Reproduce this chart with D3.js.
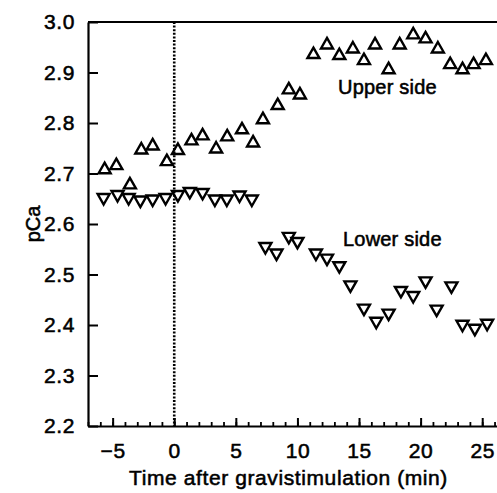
<!DOCTYPE html>
<html>
<head>
<meta charset="utf-8">
<script src="https://cdn.jsdelivr.net/npm/d3@7"></script>
<style>
  html, body { margin: 0; padding: 0; background: #fff; }
  svg { display: block; }
  text { font-family: "Liberation Sans", Arial, Helvetica, sans-serif; fill: #000; stroke: #000; stroke-width: 0.55px; }
</style>
</head>
<body>
<svg id="chart" width="497" height="493"></svg>
<script>
// ---- data ----
const upperTime = [-5.65, -4.7, -3.6, -2.67, -1.75, -0.6, 0.3, 1.4, 2.3, 3.4, 4.3, 5.5, 6.4, 7.2, 8.4, 9.3, 10.2, 11.3, 12.4, 13.4, 14.5, 15.4, 16.3, 17.4, 18.3, 19.4, 20.4, 21.4, 22.4, 23.4, 24.3, 25.3];
const upperPCa  = [2.711, 2.719, 2.681, 2.750, 2.758, 2.727, 2.749, 2.768, 2.778, 2.752, 2.776, 2.790, 2.764, 2.810, 2.838, 2.869, 2.859, 2.939, 2.958, 2.937, 2.950, 2.927, 2.958, 2.909, 2.958, 2.978, 2.970, 2.950, 2.919, 2.909, 2.919, 2.927];
const lowerTime = [-5.73, -4.6, -3.7, -2.75, -1.75, -0.7, 0.3, 1.26, 2.3, 3.3, 4.27, 5.3, 6.3, 7.4, 8.3, 9.3, 10.0, 11.5, 12.4, 13.4, 14.3, 15.4, 16.4, 17.4, 18.4, 19.4, 20.4, 21.3, 22.5, 23.4, 24.4, 25.4];
const lowerPCa  = [2.649, 2.655, 2.649, 2.644, 2.646, 2.649, 2.655, 2.661, 2.659, 2.646, 2.646, 2.654, 2.646, 2.552, 2.539, 2.572, 2.562, 2.539, 2.529, 2.514, 2.476, 2.430, 2.404, 2.420, 2.465, 2.455, 2.484, 2.428, 2.474, 2.398, 2.390, 2.400];
const xTicks = [-5, 0, 5, 10, 15, 20, 25];
const xMinorTicks = d3.range(-7, 27, 1);
const yTicks = [2.2, 2.3, 2.4, 2.5, 2.6, 2.7, 2.8, 2.9, 3.0];
const seriesLabels = [
  { name: "Upper side", t: 13.3, v: 2.857 },
  { name: "Lower side", t: 13.7, v: 2.556 }
];
const xTitle = "Time after gravistimulation (min)";
const yTitle = "pCa";

// ---- layout ----
const svg = d3.select("#chart");
const mL = 88, mR = 497, mT = 22, mB = 426;
const x = d3.scaleLinear().domain([-7, 26.2]).range([mL, mR]);
const y = d3.scaleLinear().domain([2.2, 3.0]).range([mB, mT]);
const FS = 21;
const FONT = '"Liberation Sans", Arial, Helvetica, sans-serif';

// top frame line
svg.append("line")
  .attr("x1", mL).attr("x2", mR).attr("y1", mT).attr("y2", mT)
  .attr("stroke", "#000").attr("stroke-width", 2.2);

// bottom minor ticks
const gMinor = svg.append("g").attr("transform", `translate(0,${mB})`)
  .call(d3.axisBottom(x).tickValues(xMinorTicks).tickSize(-4).tickSizeOuter(0).tickFormat(""));
gMinor.select(".domain").remove();
gMinor.selectAll("line").attr("stroke", "#000").attr("stroke-width", 1.8);

// bottom axis
const gx = svg.append("g").attr("transform", `translate(0,${mB})`)
  .call(d3.axisBottom(x).tickValues(xTicks).tickSize(-8).tickSizeOuter(0).tickPadding(17));
gx.select(".domain").attr("stroke", "#000").attr("stroke-width", 2.2);
gx.selectAll("line").attr("stroke", "#000").attr("stroke-width", 2);
gx.selectAll("text").attr("font-size", FS).attr("font-family", FONT).style("letter-spacing", "0.6px");

// left axis
const gy = svg.append("g").attr("transform", `translate(${mL},0)`)
  .call(d3.axisLeft(y).tickValues(yTicks).tickSize(-10).tickSizeOuter(0).tickPadding(13).tickFormat(d3.format(".1f")));
gy.select(".domain").attr("stroke", "#000").attr("stroke-width", 2.2);
gy.selectAll("line").attr("stroke", "#000").attr("stroke-width", 2);
gy.selectAll("text").attr("font-size", FS).attr("font-family", FONT).style("letter-spacing", "0.6px");

// dotted zero line
svg.append("line")
  .attr("x1", x(0)).attr("x2", x(0)).attr("y1", mT).attr("y2", mB)
  .attr("stroke", "#000").attr("stroke-width", 2.6).attr("stroke-dasharray", "2,1.6");

// triangles
const w = 12, h = 10.5;
const upPath = `M0,${-h/2}L${w/2},${h/2}L${-w/2},${h/2}Z`;
const downPath = `M0,${h/2}L${w/2},${-h/2}L${-w/2},${-h/2}Z`;
const lower = lowerTime.map((t, i) => ({ t, v: lowerPCa[i] }));
const upper = upperTime.map((t, i) => ({ t, v: upperPCa[i] }));

svg.append("g").selectAll("path").data(lower).join("path")
  .attr("d", downPath)
  .attr("transform", d => `translate(${x(d.t)},${y(d.v)})`)
  .attr("fill", "none").attr("stroke", "#000").attr("stroke-width", 2.4).attr("stroke-linejoin", "miter");
svg.append("g").selectAll("path").data(upper).join("path")
  .attr("d", upPath)
  .attr("transform", d => `translate(${x(d.t)},${y(d.v)})`)
  .attr("fill", "none").attr("stroke", "#000").attr("stroke-width", 2.4).attr("stroke-linejoin", "miter");

// series labels
svg.append("g").selectAll("text").data(seriesLabels).join("text")
  .attr("x", d => x(d.t)).attr("y", d => y(d.v))
  .attr("font-size", 20).style("letter-spacing", "0.2px")
  .text(d => d.name);

// axis titles
svg.append("text")
  .attr("x", (mL + mR) / 2 - 4).attr("y", 485)
  .attr("text-anchor", "middle").attr("font-size", FS).style("letter-spacing", "0.6px")
  .text(xTitle);
svg.append("text")
  .attr("transform", `translate(40,224) rotate(-90)`)
  .attr("text-anchor", "middle").attr("font-size", 20)
  .text(yTitle);
</script>
</body>
</html>
